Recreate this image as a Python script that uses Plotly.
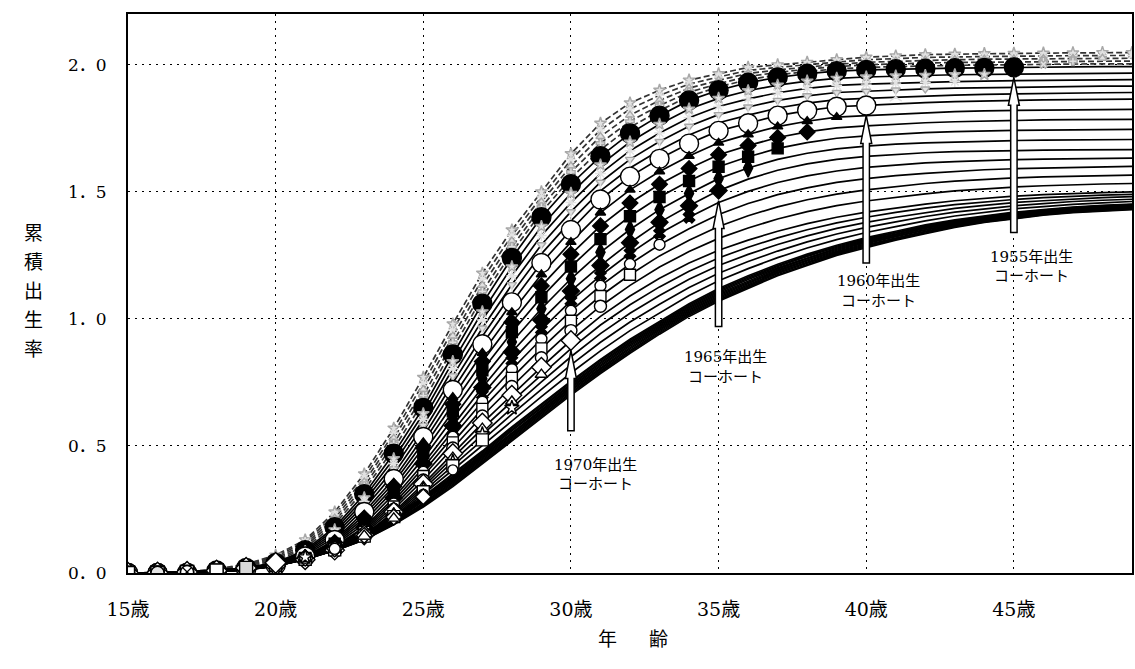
import plotly.graph_objects as go

# Ages covered by each cohort curve
AGES = list(range(15, 50))

# Cumulative fertility rate by age (15..49) for each birth cohort
c1950 = [0, 0, 0.005, 0.015, 0.035, 0.07, 0.13, 0.24, 0.39, 0.57, 0.77, 0.98, 1.18, 1.35, 1.50, 1.65, 1.77, 1.85, 1.90, 1.94, 1.965, 1.99, 2.00, 2.01, 2.02, 2.03, 2.035, 2.04, 2.042, 2.044, 2.045, 2.046, 2.047, 2.048, 2.048]
c1951 = [0, 0, 0.004, 0.014, 0.032, 0.064, 0.122, 0.228, 0.374, 0.55, 0.746, 0.956, 1.156, 1.328, 1.48, 1.626, 1.744, 1.826, 1.88, 1.924, 1.952, 1.978, 1.99, 2.001, 2.011, 2.02, 2.025, 2.029, 2.031, 2.033, 2.034, 2.035, 2.036, 2.037, 2.037]
c1952 = [0, 0, 0.003, 0.013, 0.029, 0.058, 0.114, 0.216, 0.358, 0.53, 0.722, 0.932, 1.132, 1.306, 1.46, 1.602, 1.718, 1.802, 1.86, 1.908, 1.939, 1.966, 1.98, 1.992, 2.002, 2.01, 2.014, 2.018, 2.02, 2.022, 2.023, 2.024, 2.025, 2.026, 2.026]
c1953 = [0, 0, 0.002, 0.012, 0.026, 0.052, 0.106, 0.204, 0.342, 0.51, 0.698, 0.908, 1.108, 1.284, 1.44, 1.578, 1.692, 1.778, 1.84, 1.892, 1.926, 1.954, 1.97, 1.983, 1.993, 2.00, 2.004, 2.007, 2.009, 2.01, 2.012, 2.013, 2.014, 2.015, 2.015]
c1954 = [0, 0, 0.001, 0.011, 0.023, 0.046, 0.098, 0.192, 0.326, 0.49, 0.674, 0.884, 1.084, 1.262, 1.42, 1.554, 1.666, 1.754, 1.82, 1.876, 1.913, 1.942, 1.96, 1.974, 1.984, 1.99, 1.993, 1.996, 1.998, 1.999, 2.001, 2.002, 2.003, 2.004, 2.004]
c1955 = [0, 0, 0, 0.01, 0.02, 0.04, 0.09, 0.18, 0.31, 0.47, 0.65, 0.86, 1.06, 1.24, 1.40, 1.53, 1.64, 1.73, 1.80, 1.86, 1.90, 1.93, 1.95, 1.965, 1.975, 1.98, 1.983, 1.985, 1.987, 1.988, 1.99, 1.991, 1.992, 1.993, 1.993]
c1956 = [0, 0, 0, 0.009, 0.019, 0.038, 0.085, 0.17, 0.296, 0.45, 0.627, 0.832, 1.028, 1.205, 1.364, 1.494, 1.606, 1.696, 1.766, 1.826, 1.868, 1.898, 1.92, 1.936, 1.947, 1.952, 1.956, 1.958, 1.961, 1.962, 1.964, 1.965, 1.966, 1.967, 1.967]
c1957 = [0, 0, 0, 0.008, 0.018, 0.036, 0.08, 0.16, 0.282, 0.43, 0.604, 0.804, 0.996, 1.17, 1.328, 1.458, 1.572, 1.662, 1.732, 1.792, 1.836, 1.866, 1.89, 1.907, 1.919, 1.924, 1.928, 1.931, 1.934, 1.936, 1.938, 1.939, 1.94, 1.941, 1.942]
c1958 = [0, 0, 0, 0.007, 0.017, 0.034, 0.075, 0.15, 0.268, 0.41, 0.581, 0.776, 0.964, 1.135, 1.292, 1.422, 1.538, 1.628, 1.698, 1.758, 1.804, 1.834, 1.86, 1.878, 1.891, 1.896, 1.901, 1.905, 1.908, 1.91, 1.912, 1.914, 1.915, 1.916, 1.916]
c1959 = [0, 0, 0, 0.006, 0.016, 0.032, 0.07, 0.14, 0.254, 0.39, 0.558, 0.748, 0.932, 1.10, 1.256, 1.386, 1.504, 1.594, 1.664, 1.724, 1.772, 1.802, 1.83, 1.849, 1.863, 1.868, 1.873, 1.878, 1.881, 1.884, 1.886, 1.888, 1.889, 1.89, 1.891]
c1960 = [0, 0, 0, 0.005, 0.015, 0.03, 0.065, 0.13, 0.24, 0.37, 0.535, 0.72, 0.90, 1.065, 1.22, 1.35, 1.47, 1.56, 1.63, 1.69, 1.74, 1.77, 1.80, 1.82, 1.835, 1.84, 1.846, 1.851, 1.855, 1.858, 1.86, 1.862, 1.863, 1.864, 1.865]
c1961 = [0, 0, 0, 0.005, 0.014, 0.029, 0.063, 0.125, 0.228, 0.355, 0.514, 0.692, 0.866, 1.026, 1.175, 1.302, 1.418, 1.508, 1.58, 1.641, 1.693, 1.726, 1.757, 1.778, 1.794, 1.80, 1.806, 1.812, 1.816, 1.819, 1.821, 1.822, 1.823, 1.824, 1.825]
c1962 = [0, 0, 0, 0.005, 0.014, 0.029, 0.061, 0.12, 0.216, 0.34, 0.493, 0.664, 0.832, 0.987, 1.13, 1.254, 1.366, 1.456, 1.53, 1.592, 1.646, 1.682, 1.714, 1.736, 1.752, 1.76, 1.767, 1.772, 1.776, 1.779, 1.781, 1.783, 1.784, 1.785, 1.785]
c1963 = [0, 0, 0, 0.004, 0.013, 0.028, 0.059, 0.115, 0.204, 0.325, 0.472, 0.636, 0.798, 0.948, 1.085, 1.206, 1.314, 1.404, 1.48, 1.543, 1.599, 1.638, 1.671, 1.694, 1.711, 1.72, 1.727, 1.733, 1.737, 1.74, 1.742, 1.743, 1.744, 1.745, 1.746]
c1964 = [0, 0, 0, 0.004, 0.013, 0.028, 0.057, 0.11, 0.192, 0.31, 0.451, 0.608, 0.764, 0.909, 1.04, 1.158, 1.262, 1.352, 1.43, 1.494, 1.552, 1.594, 1.628, 1.652, 1.669, 1.68, 1.688, 1.693, 1.697, 1.70, 1.702, 1.704, 1.705, 1.706, 1.706]
c1965 = [0, 0, 0, 0.004, 0.012, 0.027, 0.055, 0.105, 0.18, 0.295, 0.43, 0.58, 0.73, 0.87, 0.995, 1.11, 1.21, 1.30, 1.38, 1.445, 1.505, 1.55, 1.585, 1.61, 1.628, 1.64, 1.648, 1.654, 1.658, 1.661, 1.663, 1.664, 1.665, 1.666, 1.666]
c1966 = [0, 0, 0, 0.004, 0.012, 0.027, 0.054, 0.102, 0.174, 0.284, 0.414, 0.558, 0.702, 0.836, 0.958, 1.071, 1.17, 1.258, 1.336, 1.40, 1.458, 1.502, 1.537, 1.563, 1.582, 1.596, 1.606, 1.614, 1.619, 1.624, 1.627, 1.629, 1.631, 1.632, 1.633]
c1967 = [0, 0, 0.001, 0.005, 0.013, 0.027, 0.054, 0.099, 0.168, 0.273, 0.398, 0.536, 0.674, 0.802, 0.921, 1.032, 1.13, 1.216, 1.292, 1.355, 1.411, 1.454, 1.489, 1.516, 1.537, 1.552, 1.564, 1.573, 1.581, 1.587, 1.591, 1.594, 1.597, 1.598, 1.60]
c1968 = [0, 0, 0.001, 0.005, 0.013, 0.028, 0.053, 0.096, 0.162, 0.262, 0.382, 0.514, 0.646, 0.768, 0.884, 0.993, 1.09, 1.174, 1.248, 1.31, 1.364, 1.406, 1.441, 1.469, 1.491, 1.508, 1.521, 1.533, 1.542, 1.549, 1.555, 1.559, 1.562, 1.564, 1.566]
c1969 = [0, 0, 0.002, 0.006, 0.014, 0.028, 0.053, 0.093, 0.156, 0.251, 0.366, 0.492, 0.618, 0.734, 0.847, 0.954, 1.05, 1.132, 1.204, 1.265, 1.317, 1.358, 1.393, 1.422, 1.446, 1.464, 1.479, 1.492, 1.504, 1.512, 1.519, 1.524, 1.528, 1.531, 1.533]
c1970 = [0, 0, 0.002, 0.006, 0.014, 0.028, 0.052, 0.09, 0.15, 0.24, 0.35, 0.47, 0.59, 0.70, 0.81, 0.915, 1.01, 1.09, 1.16, 1.22, 1.27, 1.31, 1.345, 1.375, 1.40, 1.42, 1.437, 1.452, 1.465, 1.475, 1.483, 1.489, 1.494, 1.497, 1.50]
c1971 = [0, 0, 0.002, 0.006, 0.015, 0.029, 0.053, 0.09, 0.148, 0.234, 0.34, 0.454, 0.568, 0.675, 0.781, 0.883, 0.976, 1.056, 1.126, 1.188, 1.24, 1.282, 1.319, 1.351, 1.378, 1.40, 1.419, 1.436, 1.45, 1.461, 1.47, 1.477, 1.483, 1.487, 1.49]
c1972 = [0, 0, 0.002, 0.007, 0.015, 0.03, 0.053, 0.09, 0.146, 0.228, 0.33, 0.438, 0.546, 0.65, 0.752, 0.851, 0.942, 1.022, 1.092, 1.156, 1.21, 1.254, 1.293, 1.327, 1.356, 1.38, 1.40, 1.419, 1.435, 1.447, 1.458, 1.465, 1.472, 1.477, 1.481]
c1973 = [0, 0, 0.003, 0.007, 0.016, 0.032, 0.054, 0.091, 0.145, 0.222, 0.32, 0.422, 0.524, 0.625, 0.723, 0.819, 0.908, 0.988, 1.058, 1.124, 1.18, 1.226, 1.267, 1.303, 1.334, 1.36, 1.382, 1.403, 1.42, 1.433, 1.445, 1.454, 1.462, 1.467, 1.471]
c1974 = [0, 0, 0.003, 0.008, 0.016, 0.033, 0.056, 0.093, 0.146, 0.219, 0.31, 0.406, 0.502, 0.60, 0.694, 0.787, 0.874, 0.954, 1.024, 1.092, 1.15, 1.198, 1.241, 1.279, 1.312, 1.34, 1.363, 1.386, 1.405, 1.419, 1.433, 1.442, 1.451, 1.457, 1.462]
c1975 = [0, 0, 0.003, 0.008, 0.017, 0.035, 0.058, 0.095, 0.148, 0.22, 0.30, 0.39, 0.48, 0.575, 0.665, 0.755, 0.84, 0.92, 0.99, 1.06, 1.12, 1.17, 1.215, 1.255, 1.29, 1.32, 1.345, 1.37, 1.39, 1.405, 1.42, 1.43, 1.44, 1.447, 1.452]
c1976 = [0, 0, 0.003, 0.008, 0.017, 0.035, 0.057, 0.093, 0.144, 0.215, 0.298, 0.385, 0.475, 0.57, 0.66, 0.75, 0.835, 0.915, 0.985, 1.055, 1.115, 1.165, 1.21, 1.25, 1.286, 1.316, 1.341, 1.366, 1.387, 1.402, 1.417, 1.428, 1.438, 1.445, 1.45]
c1977 = [0, 0, 0.003, 0.008, 0.018, 0.036, 0.059, 0.094, 0.145, 0.212, 0.294, 0.38, 0.47, 0.564, 0.654, 0.744, 0.829, 0.909, 0.98, 1.05, 1.11, 1.16, 1.206, 1.246, 1.282, 1.312, 1.338, 1.363, 1.384, 1.40, 1.415, 1.426, 1.436, 1.443, 1.448]
c1978 = [0, 0, 0.003, 0.009, 0.018, 0.037, 0.06, 0.095, 0.143, 0.209, 0.29, 0.375, 0.465, 0.559, 0.649, 0.739, 0.824, 0.904, 0.975, 1.045, 1.105, 1.155, 1.201, 1.241, 1.278, 1.308, 1.334, 1.359, 1.381, 1.397, 1.412, 1.423, 1.433, 1.44, 1.445]
c1979 = [0, 0, 0.003, 0.009, 0.018, 0.038, 0.062, 0.094, 0.141, 0.206, 0.286, 0.37, 0.46, 0.553, 0.643, 0.733, 0.818, 0.898, 0.97, 1.04, 1.10, 1.15, 1.197, 1.237, 1.274, 1.304, 1.331, 1.356, 1.378, 1.395, 1.41, 1.421, 1.431, 1.438, 1.443]
c1980 = [0, 0.001, 0.004, 0.009, 0.02, 0.04, 0.062, 0.093, 0.139, 0.203, 0.282, 0.365, 0.455, 0.548, 0.638, 0.728, 0.813, 0.893, 0.965, 1.035, 1.095, 1.145, 1.192, 1.232, 1.27, 1.30, 1.327, 1.352, 1.375, 1.392, 1.407, 1.419, 1.429, 1.436, 1.441]
c1981 = [0, 0.001, 0.004, 0.009, 0.02, 0.037, 0.06, 0.09, 0.134, 0.198, 0.276, 0.36, 0.45, 0.542, 0.632, 0.722, 0.807, 0.887, 0.96, 1.03, 1.09, 1.14, 1.188, 1.228, 1.266, 1.296, 1.324, 1.349, 1.372, 1.39, 1.405, 1.417, 1.427, 1.434, 1.439]
c1982 = [0, 0.001, 0.004, 0.01, 0.019, 0.036, 0.058, 0.089, 0.133, 0.196, 0.272, 0.355, 0.445, 0.537, 0.627, 0.717, 0.802, 0.882, 0.955, 1.025, 1.085, 1.135, 1.183, 1.223, 1.262, 1.292, 1.32, 1.345, 1.369, 1.387, 1.402, 1.415, 1.425, 1.432, 1.437]
c1983 = [0, 0.001, 0.004, 0.01, 0.019, 0.035, 0.057, 0.088, 0.132, 0.194, 0.268, 0.35, 0.44, 0.531, 0.621, 0.711, 0.796, 0.876, 0.95, 1.02, 1.08, 1.13, 1.179, 1.219, 1.258, 1.288, 1.317, 1.342, 1.366, 1.385, 1.40, 1.412, 1.422, 1.429, 1.434]
c1984 = [0, 0.001, 0.004, 0.01, 0.02, 0.035, 0.057, 0.088, 0.131, 0.192, 0.264, 0.345, 0.435, 0.526, 0.616, 0.706, 0.791, 0.871, 0.945, 1.015, 1.075, 1.125, 1.174, 1.214, 1.254, 1.284, 1.313, 1.338, 1.363, 1.382, 1.397, 1.41, 1.42, 1.427, 1.432]
c1985 = [0, 0.001, 0.004, 0.01, 0.02, 0.035, 0.057, 0.088, 0.13, 0.19, 0.26, 0.34, 0.43, 0.52, 0.61, 0.70, 0.785, 0.865, 0.94, 1.01, 1.07, 1.12, 1.17, 1.21, 1.25, 1.28, 1.31, 1.335, 1.36, 1.38, 1.395, 1.408, 1.418, 1.425, 1.43]

CURVES = {
    1950: c1950, 1951: c1951, 1952: c1952, 1953: c1953, 1954: c1954,
    1955: c1955, 1956: c1956, 1957: c1957, 1958: c1958, 1959: c1959,
    1960: c1960, 1961: c1961, 1962: c1962, 1963: c1963, 1964: c1964,
    1965: c1965, 1966: c1966, 1967: c1967, 1968: c1968, 1969: c1969,
    1970: c1970, 1971: c1971, 1972: c1972, 1973: c1973, 1974: c1974,
    1975: c1975, 1976: c1976, 1977: c1977, 1978: c1978, 1979: c1979,
    1980: c1980, 1981: c1981, 1982: c1982, 1983: c1983, 1984: c1984,
    1985: c1985,
}

# Observed values run up to this calendar year; later ages are projections
LAST_OBSERVED_YEAR = 2000

# Highlighted cohorts with their labels
HIGHLIGHT = [1955, 1960, 1965, 1970]
HIGHLIGHT_TEXT = {c: (f"{c}年出生", "コーホート") for c in HIGHLIGHT}

X_TICKS = [15, 20, 25, 30, 35, 40, 45]
X_TICKTEXT = ["15歳", "20歳", "25歳", "30歳", "35歳", "40歳", "45歳"]
Y_TICKS = [0.0, 0.5, 1.0, 1.5, 2.0]
Y_TICKTEXT = ["0．0", "0．5", "1．0", "1．5", "2．0"]

# ---- styling -------------------------------------------------------------
GRAY_FILL, GRAY_EDGE = "#e2e2e2", "#a8a8a8"
MARKERS = {
    1950: ("star", GRAY_FILL, GRAY_EDGE, 9),
    1951: ("asterisk-open", GRAY_FILL, GRAY_EDGE, 8),
    1952: ("triangle-up", GRAY_FILL, GRAY_EDGE, 8),
    1953: ("cross", GRAY_FILL, GRAY_EDGE, 7),
    1954: ("x", GRAY_FILL, GRAY_EDGE, 7),
    1955: ("circle", "black", "black", 19),
    1956: ("star", GRAY_FILL, GRAY_EDGE, 9),
    1957: ("asterisk-open", GRAY_FILL, "#8a8a8a", 9),
    1958: ("triangle-down", GRAY_FILL, GRAY_EDGE, 8),
    1959: ("y-up-open", GRAY_FILL, "#6f6f6f", 10),
    1960: ("circle", "white", "black", 19),
    1961: ("triangle-up", "black", "black", 9),
    1962: ("diamond", "black", "black", 12),
    1963: ("square", "black", "black", 11),
    1964: ("diamond-tall", "black", "black", 13),
    1965: ("diamond", "black", "black", 13),
    1966: ("x", "black", "black", 10),
    1967: ("circle", "white", "black", 11),
    1968: ("square", "white", "black", 11),
    1969: ("circle", "white", "black", 12),
    1970: ("diamond", "white", "black", 15),
    1971: ("triangle-up", "white", "black", 11),
    1972: ("star", "white", "black", 11),
    1973: ("square", "white", "black", 12),
    1974: ("circle", "white", "black", 10),
    1975: ("diamond", "white", "black", 12),
    1976: ("triangle-up", "white", "black", 11),
    1977: ("triangle-up", "white", "black", 12),
    1978: ("circle", "white", "black", 11),
    1979: ("star", "white", "black", 11),
    1980: ("diamond", "white", "black", 16),
    1981: ("square", "#d9d9d9", "black", 13),
    1982: ("square", "white", "black", 13),
    1983: ("circle-x", "white", "black", 13),
    1984: ("circle", "#e4e4e4", "black", 13),
    1985: ("square", "white", "black", 13),
}

Y_TICK_FONT = dict(family="DejaVu Serif, Noto Sans CJK JP", size=17, color="black")
X_TICK_FONT = dict(family="DejaVu Serif, Noto Sans CJK JP", size=19, color="black")
LABEL_FONT = dict(family="DejaVu Serif, Noto Sans CJK JP", size=15, color="black")
TITLE_FONT = dict(family="Noto Sans CJK JP", size=19, color="black")

fig = go.Figure()

# Cohort curves (observed + projected part)
for c, vals in CURVES.items():
    dashed = c < 1955
    fig.add_trace(go.Scatter(
        x=AGES, y=vals, mode="lines",
        line=dict(color="#333333" if dashed else "black", width=1.7,
                  dash="6px,3px" if dashed else "solid"),
        hoverinfo="skip",
    ))

# Observed points of every cohort
for c, vals in CURVES.items():
    last_age = min(AGES[-1], LAST_OBSERVED_YEAR - c)
    xs = [a for a in AGES if a <= last_age]
    ys = [v for a, v in zip(AGES, vals) if a <= last_age]
    sym, fill, edge, size = MARKERS[c]
    fig.add_trace(go.Scatter(
        x=xs, y=ys, mode="markers",
        marker=dict(symbol=sym, size=size, color=fill,
                    line=dict(color=edge, width=1.4)),
        hoverinfo="skip",
    ))

# Hollow arrows pointing to the last observed value of highlighted cohorts
X_PER_PX = (49 - 15) / 1006.0
Y_PER_PX = 2.2 / 559.0
ARROW_BASE = {1955: 1.34, 1960: 1.22, 1965: 0.97, 1970: 0.56}
LABEL_POS = {1955: (45.6, 1.244, 1.168), 1960: (40.42, 1.149, 1.072),
             1965: (35.25, 0.852, 0.773), 1970: (30.82, 0.425, 0.349)}
shapes = []
for c in HIGHLIGHT:
    age = LAST_OBSERVED_YEAR - c
    tip = CURVES[c][AGES.index(age)] - 10 * Y_PER_PX
    base = ARROW_BASE[c]
    hw, hh, hl = 3.2 * X_PER_PX, 5.5 * X_PER_PX, 28 * Y_PER_PX
    neck = tip - hl
    path = (f"M {age-hw},{base} L {age-hw},{neck} L {age-hh},{neck} "
            f"L {age},{tip} L {age+hh},{neck} L {age+hw},{neck} L {age+hw},{base} Z")
    shapes.append(dict(type="path", path=path, xref="x", yref="y",
                       fillcolor="white", line=dict(color="black", width=1.5),
                       layer="above"))

annotations = []
for c in HIGHLIGHT:
    lx, ly1, ly2 = LABEL_POS[c]
    t1, t2 = HIGHLIGHT_TEXT[c]
    annotations.append(dict(x=lx, y=ly1, xref="x", yref="y", text=t1,
                            showarrow=False, font=LABEL_FONT))
    annotations.append(dict(x=lx, y=ly2, xref="x", yref="y", text=t2,
                            showarrow=False, font=LABEL_FONT))

# Axis titles (vertical Japanese title on the left)
Y_TITLE = "累積出生率"
for i, ch in enumerate(Y_TITLE):
    py = 231 + i * 29
    annotations.append(dict(x=(22 - 128) / 1006, y=(573 - py) / 559,
                            xref="paper", yref="paper", text=ch,
                            showarrow=False, font=TITLE_FONT))
for ch, px in (("年", 608), ("齢", 660)):
    annotations.append(dict(x=(px - 128) / 1006, y=(573 - 653) / 559,
                            xref="paper", yref="paper", text=ch,
                            showarrow=False, font=TITLE_FONT))

fig.update_layout(
    width=1135, height=669,
    margin=dict(l=128, r=1, t=14, b=96),
    plot_bgcolor="white", paper_bgcolor="white",
    showlegend=False,
    shapes=shapes, annotations=annotations,
    xaxis=dict(range=[15, 49], tickvals=X_TICKS, ticktext=X_TICKTEXT,
               tickfont=X_TICK_FONT, ticks="", ticklabelstandoff=18,
               showgrid=True, gridcolor="black", gridwidth=1.4, griddash="2px,5px",
               showline=True, linecolor="black", linewidth=2, mirror=True,
               zeroline=False, fixedrange=True),
    yaxis=dict(range=[0, 2.2], tickvals=Y_TICKS, ticktext=Y_TICKTEXT,
               tickfont=Y_TICK_FONT, ticks="", ticklabelstandoff=16,
               showgrid=True, gridcolor="black", gridwidth=1.4, griddash="2px,5px",
               showline=True, linecolor="black", linewidth=2, mirror=True,
               zeroline=False, fixedrange=True),
)

fig.write_html("out.html")
